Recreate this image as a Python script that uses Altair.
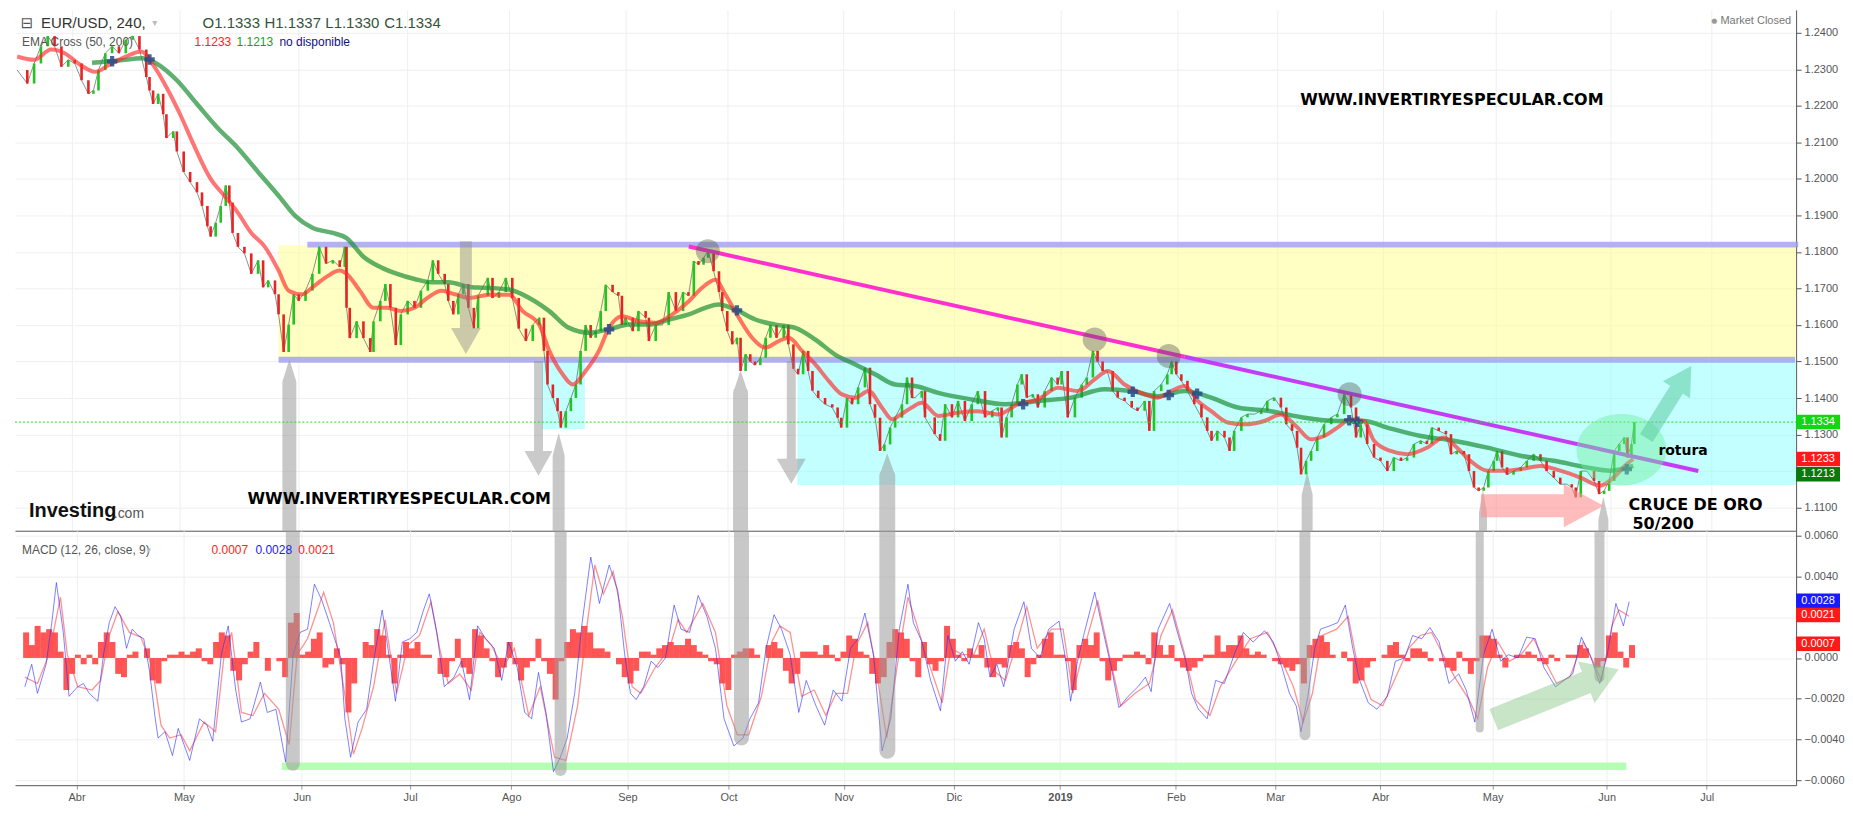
import altair as alt
import pandas as pd

# ---------------- axis values ----------------
# x = day index counted from 1 Apr 2018 (chart time axis)
MONTH_POS = [0, 30.0, 63.0, 93.3, 121.6, 154.1, 182.4, 214.6, 245.4, 275.1, 307.5, 335.3, 364.7, 396.1, 428.0, 456.0]
MONTH_LBL = ["Abr", "May", "Jun", "Jul", "Ago", "Sep", "Oct", "Nov", "Dic", "2019", "Feb", "Mar", "Abr", "May", "Jun", "Jul"]
PRICE_TICKS = [1.11, 1.12, 1.13, 1.14, 1.15, 1.16, 1.17, 1.18, 1.19, 1.20, 1.21, 1.22, 1.23, 1.24]
MACD_TICKS = [-0.006, -0.004, -0.002, 0.0, 0.002, 0.004, 0.006]

# ---------------- price closes (day, close) ----------------
CLOSE_A = [(-15.2, 1.2298), (-12.4, 1.2261), (-10.5, 1.2316), (-8.6, 1.2363), (-6.7, 1.2391), (-4.8, 1.2363),
           (-2.9, 1.2307), (-1.0, 1.2326), (0.8, 1.2316), (2.7, 1.2270), (4.6, 1.2233), (6.0, 1.2242),
           (7.4, 1.2298), (9.3, 1.2344), (11.2, 1.2363), (13.1, 1.2344), (15.0, 1.2381), (16.9, 1.2391),
           (18.8, 1.2354), (20.7, 1.2279), (21.6, 1.2242), (22.6, 1.2205), (24.0, 1.2233), (25.4, 1.2177),
           (26.3, 1.2112), (28.2, 1.2130), (29.2, 1.2075), (31.1, 1.2019), (32.9, 1.1991), (34.8, 1.1963),
           (36.2, 1.1926), (37.7, 1.1870), (38.6, 1.1842), (40.0, 1.1880), (41.4, 1.1926), (42.8, 1.1982),
           (43.8, 1.1935), (44.7, 1.1852), (46.2, 1.1814), (48.0, 1.1796), (49.9, 1.1740), (51.8, 1.1777),
           (53.2, 1.1703), (54.6, 1.1722), (56.5, 1.1684), (57.5, 1.1629), (58.9, 1.1526), (60.3, 1.1601),
           (61.7, 1.1684), (63.1, 1.1666), (65.0, 1.1694), (66.9, 1.1740), (68.8, 1.1814), (70.7, 1.1768),
           (72.6, 1.1777), (74.5, 1.1759), (75.9, 1.1814), (76.4, 1.1647), (77.3, 1.1564), (79.2, 1.1610),
           (81.1, 1.1564), (83.0, 1.1526), (83.9, 1.1610), (85.8, 1.1666), (87.2, 1.1712), (88.6, 1.1647),
           (90.1, 1.1545), (91.5, 1.1629), (93.4, 1.1666), (95.3, 1.1647), (97.1, 1.1694), (99.0, 1.1722),
           (100.4, 1.1777), (101.9, 1.1740), (103.7, 1.1712), (104.7, 1.1666), (106.1, 1.1629), (107.5, 1.1684),
           (108.9, 1.1712), (110.3, 1.1647), (111.8, 1.1591)]
CLOSE_B = [(113.0, 1.1680), (115.7, 1.1729), (117.0, 1.1674), (118.8, 1.1690), (120.7, 1.1729), (122.5, 1.1674),
           (124.3, 1.1590), (126.3, 1.1556), (128.2, 1.1600), (130.0, 1.1620), (131.3, 1.1529), (132.3, 1.1437),
           (133.8, 1.1400), (135.1, 1.1364), (136.0, 1.1319), (137.4, 1.1364), (138.8, 1.1400), (140.2, 1.1437),
           (141.5, 1.1529), (142.9, 1.1600), (144.3, 1.1565), (145.7, 1.1583), (147.1, 1.1638), (148.5, 1.1710),
           (150.4, 1.1690), (152.0, 1.1680), (153.0, 1.1600), (154.0, 1.1620), (156.0, 1.1583), (157.6, 1.1638),
           (159.6, 1.1620), (160.5, 1.1556), (162.4, 1.1600), (164.3, 1.1600), (166.0, 1.1690), (168.0, 1.1638),
           (170.0, 1.1690), (171.5, 1.1680), (173.0, 1.1775), (174.3, 1.1765), (175.7, 1.1784), (177.0, 1.1802),
           (178.5, 1.1747), (180.0, 1.1690), (180.9, 1.1638), (182.3, 1.1583), (183.7, 1.1547), (185.0, 1.1565),
           (186.0, 1.1474), (187.4, 1.1520), (188.7, 1.1500), (190.0, 1.1490), (191.5, 1.1510), (193.0, 1.1565),
           (194.3, 1.1600), (196.0, 1.1565), (198.0, 1.1600), (199.3, 1.1547), (200.7, 1.1480), (202.0, 1.1465),
           (203.4, 1.1529), (204.8, 1.1474), (206.0, 1.1420), (207.6, 1.1400), (209.5, 1.1383), (211.5, 1.1374),
           (213.0, 1.1346), (214.0, 1.1319), (215.6, 1.1400), (217.0, 1.1383), (218.7, 1.1429), (220.6, 1.1483),
           (222.0, 1.1383), (223.4, 1.1346), (224.8, 1.1255), (226.0, 1.1273), (227.6, 1.1319), (229.0, 1.1346),
           (230.9, 1.1383), (232.3, 1.1456), (233.7, 1.1400)]
CLOSE_C = [(234.5, 1.1401), (236.4, 1.1419), (237.3, 1.1347), (240.0, 1.1301), (241.5, 1.1283), (242.9, 1.1383),
           (244.8, 1.1347), (246.5, 1.1392), (248.4, 1.1337), (250.3, 1.1383), (252.0, 1.1419), (254.0, 1.1347),
           (256.0, 1.1365), (257.6, 1.1374), (258.6, 1.1292), (260.0, 1.1347), (261.4, 1.1383), (263.0, 1.1437),
           (264.2, 1.1465), (265.6, 1.1401), (267.3, 1.1410), (268.7, 1.1374), (270.6, 1.1419), (272.5, 1.1456),
           (274.2, 1.1437), (275.3, 1.1474), (277.0, 1.1347), (279.0, 1.1401), (280.9, 1.1437), (282.3, 1.1456),
           (284.0, 1.1529), (285.3, 1.1500), (286.7, 1.1474), (288.0, 1.1474), (289.5, 1.1419), (290.9, 1.1401),
           (292.8, 1.1392), (294.8, 1.1374), (296.4, 1.1365), (298.4, 1.1392), (299.7, 1.1310), (301.0, 1.1419),
           (303.0, 1.1437), (304.7, 1.1465), (305.9, 1.1500), (307.2, 1.1465), (308.6, 1.1447), (310.3, 1.1419),
           (312.2, 1.1383), (314.2, 1.1347), (315.8, 1.1310), (317.0, 1.1283), (318.6, 1.1310), (320.6, 1.1292),
           (322.0, 1.1255), (323.3, 1.1310), (325.3, 1.1347), (327.0, 1.1356), (329.0, 1.1356), (330.8, 1.1365),
           (332.5, 1.1392), (334.4, 1.1401), (336.3, 1.1374), (337.8, 1.1328), (339.4, 1.1310), (340.8, 1.1264),
           (341.9, 1.1191), (343.3, 1.1228), (344.7, 1.1255), (346.4, 1.1292), (348.3, 1.1328), (350.3, 1.1347),
           (352.0, 1.1356), (353.9, 1.1410), (355.8, 1.1374), (357.2, 1.1292)]
CLOSE_D = [(358.5, 1.1328), (360.3, 1.1274), (362.2, 1.1237), (364.0, 1.1228), (365.9, 1.1200), (367.7, 1.1237),
           (369.7, 1.1228), (371.4, 1.1237), (373.3, 1.1274), (375.2, 1.1283), (376.9, 1.1274), (378.3, 1.1319),
           (380.2, 1.1310), (382.2, 1.1301), (383.6, 1.1246), (385.2, 1.1255), (387.2, 1.1246), (388.6, 1.1200),
           (390.0, 1.1155), (391.3, 1.1146), (392.7, 1.1155), (394.0, 1.1200), (395.5, 1.1228), (396.4, 1.1255),
           (397.8, 1.1210), (399.2, 1.1190), (401.0, 1.1200), (403.0, 1.1210), (404.7, 1.1228), (406.6, 1.1246),
           (408.5, 1.1228), (410.2, 1.1200), (412.2, 1.1182), (414.0, 1.1164), (415.8, 1.1164), (417.2, 1.1155),
           (418.3, 1.1128), (419.7, 1.1200), (421.4, 1.1200), (423.4, 1.1173), (424.8, 1.1137), (426.2, 1.1146),
           (427.6, 1.1173), (429.0, 1.1255), (430.4, 1.1274), (431.8, 1.1292), (432.7, 1.1237), (433.8, 1.1274),
           (434.6, 1.1334)]

# ---------------- moving averages (day, value) ----------------
EMA50 = [(-15.2, 1.2335), (-10.5, 1.2326), (-5.8, 1.2354), (-2.0, 1.2344), (1.8, 1.2316), (6.5, 1.2293),
         (10.3, 1.2312), (15.0, 1.2335), (19.3, 1.2349), (22.6, 1.2312), (26.3, 1.2251), (30.1, 1.2177),
         (33.9, 1.2093), (38.6, 1.2000), (42.4, 1.1954), (46.2, 1.1907), (49.9, 1.1852), (53.7, 1.1814),
         (57.5, 1.1749), (60.3, 1.1694), (64.1, 1.1684), (66.9, 1.1703), (70.7, 1.1731), (74.5, 1.1749),
         (76.4, 1.1740), (80.1, 1.1694), (83.9, 1.1647), (87.7, 1.1647), (91.5, 1.1638), (95.3, 1.1647),
         (99.0, 1.1675), (102.8, 1.1694), (106.6, 1.1684), (110.6, 1.1674), (116.1, 1.1683), (121.6, 1.1683),
         (125.4, 1.1638), (130.0, 1.1601), (132.8, 1.1529), (136.5, 1.1465), (139.3, 1.1437), (142.9, 1.1474),
         (146.6, 1.1529), (149.4, 1.1592), (153.1, 1.1624), (157.7, 1.1610), (162.4, 1.1606), (167.0, 1.1629),
         (171.6, 1.1665), (175.3, 1.1702), (179.0, 1.1724), (181.8, 1.1683), (185.5, 1.1620), (189.2, 1.1565),
         (192.9, 1.1538), (196.6, 1.1556), (199.4, 1.1565), (203.1, 1.1529), (206.8, 1.1492), (210.5, 1.1447),
         (214.2, 1.1410), (217.9, 1.1401), (221.6, 1.1419), (225.3, 1.1374), (228.1, 1.1342), (230.8, 1.1356),
         (233.6, 1.1374), (236.4, 1.1387), (241.0, 1.1351), (246.6, 1.1360), (252.1, 1.1364), (257.6, 1.1355),
         (263.2, 1.1383), (268.7, 1.1396), (274.3, 1.1428), (279.8, 1.1419), (284.5, 1.1451), (288.2, 1.1474),
         (292.8, 1.1437), (298.4, 1.1410), (302.1, 1.1401), (305.8, 1.1419), (309.5, 1.1433), (313.2, 1.1392),
         (316.9, 1.1364), (321.5, 1.1333), (326.1, 1.1328), (331.7, 1.1337), (336.3, 1.1355), (340.9, 1.1319),
         (344.6, 1.1287), (348.3, 1.1296), (352.0, 1.1319), (355.7, 1.1342), (359.4, 1.1337), (362.2, 1.1283),
         (366.8, 1.1255), (371.4, 1.1246), (377.0, 1.1264), (381.6, 1.1292), (385.3, 1.1264), (389.0, 1.1228),
         (393.7, 1.1201), (398.3, 1.1201), (402.9, 1.1205), (408.5, 1.1214), (414.0, 1.1201), (419.6, 1.1182),
         (425.1, 1.1160), (428.8, 1.1182), (432.5, 1.1219), (434.3, 1.1233)]
EMA200 = [(5.6, 1.2318), (13.0, 1.2324), (19.7, 1.2330), (23.5, 1.2316), (29.2, 1.2270), (34.8, 1.2205),
          (40.5, 1.2140), (46.2, 1.2084), (51.8, 1.2019), (57.5, 1.1954), (62.2, 1.1898), (66.9, 1.1866),
          (72.6, 1.1852), (76.4, 1.1838), (81.1, 1.1787), (85.8, 1.1759), (90.5, 1.1740), (95.3, 1.1726),
          (100.0, 1.1717), (104.7, 1.1717), (111.3, 1.1703), (114.3, 1.1702), (121.6, 1.1697), (127.2, 1.1674),
          (132.8, 1.1638), (138.3, 1.1592), (143.9, 1.1579), (149.4, 1.1588), (155.0, 1.1601), (160.5, 1.1601),
          (166.1, 1.1615), (171.6, 1.1629), (176.2, 1.1647), (179.9, 1.1656), (184.6, 1.1642), (190.1, 1.1615),
          (195.7, 1.1601), (201.2, 1.1592), (206.8, 1.1560), (212.3, 1.1519), (217.9, 1.1492), (223.4, 1.1465),
          (229.0, 1.1437), (234.5, 1.1433), (241.0, 1.1414), (250.3, 1.1396), (259.5, 1.1383), (268.7, 1.1392),
          (278.0, 1.1401), (287.3, 1.1424), (294.7, 1.1419), (302.1, 1.1405), (309.5, 1.1419), (316.9, 1.1401),
          (324.3, 1.1374), (333.5, 1.1364), (342.8, 1.1346), (352.0, 1.1337), (359.4, 1.1337), (365.9, 1.1319),
          (375.2, 1.1296), (384.4, 1.1283), (393.7, 1.1264), (402.9, 1.1242), (412.2, 1.1228), (421.4, 1.1210),
          (427.9, 1.1201), (434.3, 1.1214)]

# ---------------- MACD (day, value) ----------------
MACD_LINE = [(-14.46, -0.00141), (-12.54, -0.00031), (-10.93, -0.00173), (-8.52, -0.00031), (-6.91, 0.00173),
             (-5.63, 0.00369), (-3.70, 0.00125), (-2.09, -0.00188), (0.32, -0.00141), (1.93, -0.00125),
             (3.54, -0.00173), (5.95, -0.00212), (7.55, 0.00016), (9.16, 0.00173), (10.77, 0.00251),
             (12.38, 0.00204), (13.98, 0.00047), (15.59, 0.00141), (17.20, 0.00110), (18.80, 0.00094),
             (20.41, -0.00063), (22.02, -0.00298), (22.82, -0.00392), (24.75, -0.00361), (26.84, -0.00478),
             (28.45, -0.00345), (30.05, -0.00424), (31.66, -0.00502), (34.39, -0.00298), (36.48, -0.00329),
             (38.09, -0.00408), (40.50, 0.00016), (42.43, 0.00157), (44.52, -0.00157), (46.13, -0.00314),
             (48.54, -0.00298), (51.43, -0.00118), (53.36, -0.00267), (55.77, -0.00251), (58.50, -0.00510),
             (60.59, 0.00016), (62.52, 0.00125), (64.61, 0.00141), (66.54, 0.00361), (68.63, 0.00282),
             (70.72, 0.00173), (73.93, 0.0), (75.06, -0.00298), (76.66, -0.00486), (78.75, -0.00314),
             (81.16, -0.00251), (83.09, -0.00016), (85.50, 0.00235), (87.11, 0.00047), (89.20, -0.00212),
             (91.13, 0.00078), (93.22, 0.00094), (95.15, 0.00125), (97.07, 0.00235), (98.68, 0.00314),
             (100.77, 0.00125), (102.86, -0.00141), (105.59, -0.00094), (107.68, -0.00016), (109.93, -0.00204),
             (112.18, 0.00157), (114.43, 0.00094), (116.84, 0.00047), (118.93, -0.00110), (120.86, 0.00078),
             (123.27, -0.00047), (125.36, -0.00267), (127.29, -0.00298), (129.22, -0.00071), (131.31, -0.00267),
             (133.40, -0.00557), (135.33, -0.00486), (137.25, -0.00392), (139.34, -0.00173), (141.43, 0.00173),
             (143.84, 0.00494), (146.26, 0.00267), (148.99, 0.00455), (151.40, 0.00329), (153.33, 0.00016),
             (154.93, -0.00173), (156.54, -0.00204), (158.63, -0.00141), (160.72, -0.00016), (162.65, -0.00047),
             (164.74, 0.0), (167.15, 0.00259), (169.08, 0.00141), (171.49, 0.00125), (173.90, 0.00306),
             (176.31, 0.00204), (178.72, 0.00047), (181.13, -0.00298), (183.86, -0.00431), (186.44, -0.00392),
             (188.36, -0.00298), (190.77, -0.00220), (192.86, 0.00047), (195.11, 0.00212), (197.20, 0.00141),
             (199.61, 0.00016), (202.02, -0.00267), (204.11, -0.00110), (206.85, -0.00235), (209.26, -0.00329),
             (211.67, -0.00157), (214.08, -0.00212), (216.49, 0.00047), (218.58, 0.00094), (220.51, 0.00220),
             (222.92, 0.00016), (225.33, -0.00455), (227.74, -0.00298), (230.15, 0.00141), (232.56, 0.00361),
             (234.07, 0.00173), (236.49, 0.00078), (238.91, -0.00110), (241.65, -0.00259), (243.74, 0.00110),
             (245.83, -0.00016), (247.77, 0.00031), (249.70, -0.00031), (252.28, 0.00173), (253.89, 0.00094),
             (255.50, -0.00094), (257.43, -0.00031), (259.36, -0.00141), (262.26, 0.00141), (265.00, 0.00275),
             (267.10, 0.00047), (269.51, 0.0), (271.93, 0.00141), (274.83, 0.00180), (276.76, -0.00016),
             (278.05, -0.00212), (279.98, -0.00016), (281.92, 0.00125), (284.81, 0.00322), (287.23, 0.00125),
             (289.65, -0.00063), (291.58, -0.00243), (294.16, -0.00188), (296.90, -0.00141), (298.99, -0.00094),
             (300.60, -0.00165), (302.53, 0.00141), (305.76, 0.00267), (307.69, 0.00141), (310.27, -0.00016),
             (311.88, -0.00173), (313.81, -0.00251), (316.23, -0.00298), (318.64, -0.00110), (321.06, -0.00125),
             (323.80, 0.00016), (326.37, 0.00125), (329.11, 0.00078), (332.33, 0.00133), (334.75, 0.00078),
             (337.17, -0.00047), (339.26, -0.00173), (341.19, -0.00235), (342.48, -0.00361), (344.42, -0.00188),
             (346.35, 0.00047), (347.96, 0.00141), (350.54, 0.00157), (352.79, 0.00173), (354.89, 0.00259),
             (356.98, 0.00047), (358.91, -0.00110), (361.33, -0.00220), (363.74, -0.00251), (366.64, -0.00188),
             (368.90, -0.00016), (371.48, 0.0), (373.73, 0.00110), (376.31, 0.00094), (378.57, 0.00149),
             (381.14, 0.00078), (383.88, -0.00125), (386.62, -0.00078), (388.71, -0.00157), (391.13, -0.00314),
             (393.55, 0.00016), (395.96, 0.00141), (398.38, -0.00016), (400.47, 0.00016), (403.21, 0.0),
             (405.63, 0.00102), (408.04, 0.00094), (410.46, -0.00047), (413.68, -0.00141), (416.10, -0.00110),
             (418.51, -0.00078), (420.93, 0.00102), (423.35, 0.00016), (426.08, -0.00125), (428.18, 0.00016),
             (430.59, 0.00267), (432.69, 0.00157), (434.30, 0.00275)]
SIGNAL_LINE = [(-14.46, -0.00094), (-10.93, -0.00125), (-7.71, 0.00016), (-4.50, 0.00298), (-2.57, 0.00016),
               (0.32, -0.00141), (4.34, -0.00157), (6.75, -0.00110), (9.16, 0.00110), (11.57, 0.00227),
               (14.79, 0.00125), (18.00, 0.00102), (21.21, -0.00047), (23.63, -0.00329), (26.04, -0.00392),
               (29.25, -0.00376), (31.66, -0.00455), (35.68, -0.00314), (38.89, -0.00361), (41.30, 0.00016),
               (43.39, 0.00125), (46.13, -0.00267), (49.34, -0.00282), (52.56, -0.00173), (56.57, -0.00251),
               (59.47, -0.00424), (61.72, 0.00016), (64.61, 0.00094), (69.11, 0.00322), (71.84, 0.00173),
               (75.54, -0.00235), (77.47, -0.00471), (79.88, -0.00345), (83.09, -0.00141), (86.31, 0.00188),
               (89.52, -0.00173), (92.74, 0.00063), (95.95, 0.00110), (99.16, 0.00275), (101.57, 0.00047),
               (103.99, -0.00125), (107.20, -0.00078), (110.41, -0.00157), (112.83, 0.00125), (116.04, 0.00063),
               (119.25, -0.00047), (122.47, 0.00047), (126.49, -0.00282), (129.70, -0.00141), (133.72, -0.00486),
               (136.93, -0.00502), (140.15, -0.00235), (142.56, 0.00125), (144.97, 0.00455), (147.38, 0.00314),
               (150.11, 0.00424), (152.68, 0.00204), (155.42, -0.00141), (157.83, -0.00173), (161.85, -0.00047),
               (165.86, 0.00047), (168.27, 0.00188), (170.68, 0.00125), (175.18, 0.00267), (178.72, 0.00125),
               (181.93, -0.00235), (184.83, -0.00376), (188.04, -0.00376), (191.58, -0.00188), (194.47, 0.00078),
               (196.72, 0.00157), (199.61, 0.00125), (202.83, -0.00188), (206.36, -0.00157), (209.58, -0.00282),
               (212.47, -0.00173), (215.69, -0.00173), (218.10, 0.00063), (221.31, 0.00173), (223.72, -0.00063),
               (226.62, -0.00392), (229.35, -0.00063), (232.56, 0.00298), (234.88, 0.00173), (237.30, 0.00031),
               (239.71, -0.00094), (242.13, -0.00220), (244.54, 0.00047), (247.77, 0.00016), (250.99, 0.00016),
               (253.89, 0.00141), (256.63, -0.00063), (259.85, -0.00110), (263.07, 0.00078), (265.81, 0.00251),
               (268.71, 0.00047), (272.73, 0.00141), (275.96, 0.00141), (278.69, -0.00173), (281.59, 0.00031),
               (285.62, 0.00282), (288.84, 0.00016), (292.06, -0.00235), (296.09, -0.00173), (300.12, -0.00125),
               (303.34, 0.00110), (306.56, 0.00235), (309.78, 0.00031), (313.00, -0.00204), (317.03, -0.00282),
               (319.93, -0.00141), (324.28, -0.00016), (328.31, 0.00094), (333.14, 0.00125), (336.36, 0.00016),
               (340.39, -0.00141), (343.13, -0.00314), (345.71, -0.00173), (348.44, 0.00110), (352.47, 0.00141),
               (355.69, 0.00204), (358.11, -0.00016), (362.14, -0.00204), (365.36, -0.00235), (368.58, -0.00110),
               (372.61, 0.00047), (375.83, 0.00110), (379.05, 0.00125), (382.27, 0.00016), (385.49, -0.00094),
               (389.52, -0.00204), (391.94, -0.00298), (394.67, -0.00047), (397.57, 0.00078), (400.79, -0.00016),
               (404.01, 0.00016), (407.56, 0.00094), (410.78, -0.00016), (414.00, -0.00125), (417.71, -0.00094),
               (421.41, 0.00078), (424.15, -0.00016), (426.57, -0.00110), (429.47, 0.00157), (431.40, 0.00235),
               (434.30, 0.00204)]
# histogram, one bar every HIST_STEP days starting at HIST_START
HIST_START, HIST_STEP = -14.1, 1.61
HIST = [0.00125, 0.00063, 0.00157, 0.00125, 0.00141, 0.00125, 0.00031, -0.00157, -0.00078, 0.00016,
        -0.00031, 0.00016, -0.00031, 0.00078, 0.00125, 0.00078, -0.00078, -0.00094, 0.00016, 0.00031,
        0.0, 0.00047, -0.00110, -0.00125, -0.00016, 0.00016, 0.00016, 0.00031, 0.00016, 0.00031,
        0.00047, -0.00016, -0.00031, 0.00078, 0.00125, 0.00110, -0.00063, -0.00110, -0.00031, 0.00031,
        0.00078, 0.0, -0.00063, 0.0, -0.00016, -0.00094, 0.00173, 0.00220, 0.00016, 0.00031,
        0.00094, 0.00125, -0.00047, -0.00031, 0.00047, -0.00031, -0.00267, -0.00125, 0.0, 0.00078,
        0.00063, 0.00141, 0.00110, 0.00016, -0.00125, 0.00016, 0.00078, 0.00047, 0.00078, 0.00016,
        0.00016, 0.0, -0.00078, -0.00094, -0.00016, 0.00094, -0.00047, -0.00078, 0.00141, 0.00110,
        0.00047, -0.00016, -0.00094, -0.00047, 0.00078, -0.00031, -0.00110, -0.00047, -0.00016, 0.00094,
        -0.00016, -0.00078, -0.00204, -0.00016, 0.00078, 0.00141, 0.00125, 0.00157, 0.00125, 0.00047,
        0.00047, 0.00031, 0.0, -0.00031, -0.00094, -0.00125, -0.00063, 0.00031, 0.00031, 0.00016,
        0.00047, 0.00063, 0.00078, 0.00063, 0.00063, 0.00094, 0.00063, 0.00031, 0.00016, -0.00016,
        -0.00031, -0.00125, -0.00157, 0.00016, 0.00031, 0.00047, 0.00047, 0.00016, 0.0, 0.00063,
        0.00078, 0.00047, -0.00063, -0.00125, -0.00078, 0.00031, 0.00031, 0.00031, 0.00016, 0.00063,
        0.00016, -0.00016, 0.00031, 0.00110, 0.00094, 0.00031, 0.00016, -0.00078, -0.00125, -0.00094,
        0.00078, 0.00141, 0.00125, 0.00094, -0.00016,
        -0.00094, 0.00078, -0.00031, -0.00063, -0.00016, 0.00157, 0.00094, 0.00016, -0.00016, 0.00047,
        0.00016, 0.00063, -0.00047, -0.00094, -0.00031, -0.00047, 0.00063, 0.00078, 0.00047, -0.00094,
        -0.00031, 0.00016, 0.00094, 0.00125, 0.00016, 0.00016, -0.00016, -0.00157, 0.00063, 0.00094,
        0.00063, 0.00125, -0.00016, -0.00110, -0.00063, -0.00016, 0.00016, 0.00016, 0.00031, 0.00016,
        -0.00031, 0.00125, 0.00063, 0.00016, 0.00063, -0.00016, -0.00047, -0.00063, -0.00047, -0.00016,
        0.00016, 0.00016, 0.00110, 0.00031, 0.00063, 0.00063, 0.00110, 0.00047, 0.00016, 0.00031,
        0.00016, 0.0, -0.00016, -0.00031, -0.00047, -0.00063, -0.00031, -0.00125, 0.00063, 0.00094,
        0.00110, 0.00078, 0.00016, 0.0, 0.00031, -0.00016, -0.00125, -0.00110, -0.00047, -0.00016,
        0.0, 0.00016, 0.00063, 0.00078, 0.00016, -0.00016, 0.00047, 0.00047, 0.00031, -0.00016,
        0.0, -0.00016, -0.00047, -0.00063, 0.00031, -0.00016, -0.00078, -0.00016, 0.00110, 0.00110,
        0.00094, 0.00016, -0.00047, 0.0, 0.00016, 0.00016, 0.00031, 0.00016, -0.00016, -0.00031,
        0.00016, -0.00016, 0.0, 0.00016, 0.00016, 0.00063, 0.00047, 0.0, -0.00047, -0.00016,
        0.00110, 0.00125, 0.00031, -0.00047, 0.00063]

# ---------------- drawn annotations (day / price or MACD units) ----------------
ZONES = [(57.45, 482.4, 1.1505, 1.1818, "#ffff88"), (201.8, 482.4, 1.1162, 1.1505, "#88ffff"),
         (130.7, 142.7, 1.1315, 1.1505, "#88ffff")]
LEVELS = [(65.5, 480.2, 1.1820), (57.5, 479.3, 1.1505)]
TREND_A = [(171.6, 1.1815), (309.5, 1.1513)]
TREND_B = [(309.5, 1.1513), (452.4, 1.1200)]
TOUCH_CIRCLES = [(176.9, 1.1802), (284.5, 1.1560), (305.1, 1.1515), (355.4, 1.1410)]
EMA_CROSSES = [(11.2, 1.2322), (21.6, 1.2327), (149.4, 1.1588), (185.0, 1.1640), (264.6, 1.1383), (295.1, 1.1417),
               (305.1, 1.1408), (313.0, 1.1412), (355.3, 1.1339), (357.6, 1.1335), (432.5, 1.1205)]
SPIKE_DAY = [60.5, 135.4, 186.0, 226.8, 343.6, 392.5, 426.0]
SPIKE_TOP = [1.1504, 1.1302, 1.1474, 1.1247, 1.1195, 1.1146, 1.1127]
SPIKE_TIP = [-0.00518, -0.00549, -0.00392, -0.00455, -0.00376, -0.00345, -0.00094]
SPIKE_W = [14, 12, 15, 16, 11, 8, 10]
DOWN_ARROWS = [(109.6, 1.1675), (129.8, 1.1344), (200.1, 1.1333)]
LAST_PRICE = 1.1334
PRICE_BADGES = [(1.1334, "#12d612"), (1.1233, "#ff1a1a")]
PRICE_BADGE_LOW = (1.1213, "#0a780a")
MACD_BADGES = [(0.0028, "#1a1aff"), (0.0021, "#ff1a1a"), (0.0007, "#ff1a1a")]
MACD_BAND = (57.45, 433.5, -0.00549, -0.00512)

# ---------------- layout ----------------
W, HP, HM = 1785, 522, 255
X_DOM = [-15.82, 479.6]
P_DOM = [1.10366, 1.24628]
M_DOM = [-0.00623, 0.00623]
FONT = "DejaVu Sans"
AXFONT = "Liberation Sans"

xs = alt.Scale(domain=X_DOM, nice=False, zero=False)
ps = alt.Scale(domain=P_DOM, nice=False, zero=False)
ms = alt.Scale(domain=M_DOM, nice=False, zero=False)

mids = [(MONTH_POS[i] + MONTH_POS[i + 1]) / 2 for i in range(len(MONTH_POS) - 1)]
expr = "'" + MONTH_LBL[-1] + "'"
for i in range(len(mids) - 1, -1, -1):
    expr = f"datum.value < {mids[i]:.2f} ? '{MONTH_LBL[i]}' : ({expr})"

GRID = "#efefef"
X_AX_P = alt.Axis(values=MONTH_POS, labels=False, ticks=False, grid=True, gridColor=GRID,
                  domain=True, domainColor="#555555", title=None)
X_AX_M = alt.Axis(values=MONTH_POS, labelExpr=expr, grid=True, gridColor=GRID, domainColor="#555555",
                  tickColor="#999999", tickSize=4, labelColor="#555555", labelFontSize=11, labelFont=AXFONT,
                  labelPadding=2, title=None,
                  labelFontWeight={"condition": {"test": "datum.value > 270 && datum.value < 280", "value": "bold"},
                                   "value": "normal"})
Y_AX_P = alt.Axis(orient="right", values=PRICE_TICKS, format=".4f", grid=True, gridColor=GRID,
                  domainColor="#555555", tickColor="#555555", tickSize=5, labelColor="#555555",
                  labelFontSize=11, labelFont=AXFONT, labelPadding=3, title=None)
Y_AX_M = alt.Axis(orient="right", values=MACD_TICKS, format=".4f", grid=True, gridColor=GRID,
                  domainColor="#555555", tickColor="#555555", tickSize=5, labelColor="#555555",
                  labelFontSize=11, labelFont=AXFONT, labelPadding=3, title=None)


def XP(f="d"):
    return alt.X(f"{f}:Q", scale=xs, axis=X_AX_P)


def XM(f="d"):
    return alt.X(f"{f}:Q", scale=xs, axis=X_AX_M)


def YP(f="p"):
    return alt.Y(f"{f}:Q", scale=ps, axis=Y_AX_P)


def YM(f="v"):
    return alt.Y(f"{f}:Q", scale=ms, axis=Y_AX_M)


ONE = pd.DataFrame({"k": [0]})


def label(s, x, y, size=12, color="#333333", weight="normal", align="left", font=FONT):
    return alt.Chart(ONE).mark_text(text=s, align=align, baseline="middle", fontSize=size, color=color,
                                    fontWeight=weight, font=font).encode(x=alt.value(x), y=alt.value(y))


def r_arrow(length, shaft, head, head_len):
    s = 2.0 / length
    sh, hh, hx = shaft / 2 * s, head / 2 * s, 1 - head_len * s
    return (f"M -1 {-sh:.3f} L {hx:.3f} {-sh:.3f} L {hx:.3f} {-hh:.3f} L 1 0 "
            f"L {hx:.3f} {hh:.3f} L {hx:.3f} {sh:.3f} L -1 {sh:.3f} Z")


BOX = "M -1 -0.33 L 1 -0.33 L 1 0.33 L -1 0.33 Z"
BOX_LOW = "M -1 0.03 L 1 0.03 L 1 0.69 L -1 0.69 Z"
ELLIPSE = "M -1 0 A 1 0.8 0 1 1 1 0 A 1 0.8 0 1 1 -1 0 Z"

# ---------------- price panel ----------------
zones = alt.Chart(pd.DataFrame(ZONES, columns=["d", "d2", "p", "p2", "c"])).mark_rect(
    opacity=0.5, clip=True).encode(x=XP(), x2="d2:Q", y=YP(), y2="p2:Q", color=alt.Color("c:N", scale=None))

levels = alt.Chart(pd.DataFrame(LEVELS, columns=["d", "d2", "p"])).mark_rule(
    strokeWidth=6, color="#9f9ff0", opacity=0.8).encode(x=XP(), x2="d2:Q", y=YP())

spk_rows = []
for i, (d, top, w) in enumerate(zip(SPIKE_DAY, SPIKE_TOP, SPIKE_W)):
    spk_rows += [(i, d, top, 0.5, 0), (i, d, top - 0.006, w, 1), (i, d, 1.09, w, 2)]
spikes_p = alt.Chart(pd.DataFrame(spk_rows, columns=["id", "d", "p", "w", "o"])).mark_trail(
    color="#9a9a9a", opacity=0.55, clip=True).encode(
    x=XP(), y=YP(), size=alt.Size("w:Q", scale=None, legend=None), order="o:Q", detail="id:N")

cdf = pd.DataFrame(CLOSE_A + CLOSE_B + CLOSE_C + CLOSE_D, columns=["d", "p"])
cdf["o"] = cdf["p"].shift(1).fillna(cdf["p"])
cdf["dir"] = (cdf["p"] >= cdf["o"]).map({True: "up", False: "down"})
close_line = alt.Chart(cdf).mark_line(strokeWidth=0.8, color="#444444", opacity=0.75).encode(x=XP(), y=YP())
candles = alt.Chart(cdf).mark_rule(strokeWidth=2.6).encode(
    x=XP(), y=YP("o"), y2="p:Q",
    color=alt.Color("dir:N", scale=alt.Scale(domain=["up", "down"], range=["#22c322", "#e52424"]), legend=None))

ema200 = alt.Chart(pd.DataFrame(EMA200, columns=["d", "p"])).mark_line(
    strokeWidth=4.5, color="#1c8f34", opacity=0.7, interpolate="monotone").encode(x=XP(), y=YP())
ema50 = alt.Chart(pd.DataFrame(EMA50, columns=["d", "p"])).mark_line(
    strokeWidth=4, color="#ff2a2a", opacity=0.65, interpolate="monotone").encode(x=XP(), y=YP())

arrow_specs = [(113, 12, 30, 26), (115, 9, 28, 25), (123, 9, 29, 25)]
down_arrows = []
for (d, p), (ln, sw, hw, hl) in zip(DOWN_ARROWS, arrow_specs):
    down_arrows.append(
        alt.Chart(pd.DataFrame({"d": [d], "p": [p]})).mark_point(
            shape=r_arrow(ln, sw, hw, hl), size=ln * ln, filled=True, color="#8a8a8a", opacity=0.45,
            strokeWidth=0, angle=90).encode(x=XP(), y=YP()))

trend_a = alt.Chart(pd.DataFrame(TREND_A, columns=["d", "p"])).mark_line(
    strokeWidth=4, color="#ff2fd0").encode(x=XP(), y=YP())
trend_b = alt.Chart(pd.DataFrame(TREND_B, columns=["d", "p"])).mark_line(
    strokeWidth=4, color="#c63cf5").encode(x=XP(), y=YP())

circles = alt.Chart(pd.DataFrame(TOUCH_CIRCLES, columns=["d", "p"])).mark_circle(
    size=580, color="#555555", opacity=0.4).encode(x=XP(), y=YP())
crosses = alt.Chart(pd.DataFrame(EMA_CROSSES, columns=["d", "p"])).mark_point(
    shape="cross", filled=True, size=110, color="#2a4a8a", opacity=0.85, strokeWidth=0).encode(x=XP(), y=YP())

last_line = alt.Chart(pd.DataFrame({"p": [LAST_PRICE]})).mark_rule(
    strokeDash=[2, 2], color="#2bd52b", strokeWidth=1).encode(y=YP(), x=alt.value(0), x2=alt.value(W))

ellipse = alt.Chart(pd.DataFrame({"d": [431.0], "p": [1.1258]})).mark_point(
    shape=ELLIPSE, size=8100, filled=True, color="#6fee9e", opacity=0.45, strokeWidth=0).encode(x=XP(), y=YP())
up_arrow = alt.Chart(pd.DataFrame({"d": [444.2], "p": [1.1389]})).mark_point(
    shape=r_arrow(85, 15, 32, 28), size=85 * 85, filled=True, color="#55c89a", opacity=0.5,
    strokeWidth=0, angle=302).encode(x=XP(), y=YP())
pink_arrow = alt.Chart(pd.DataFrame({"d": [409.0], "p": [1.1105]})).mark_point(
    shape=r_arrow(123, 23, 43, 40), size=123 * 123, filled=True, color="#ff8f8f", opacity=0.6,
    strokeWidth=0).encode(x=XP(), y=YP())

pb = pd.DataFrame(PRICE_BADGES, columns=["p", "c"])
pb["t"] = pb["p"].map(lambda v: f"{v:.4f}")
pbl = pd.DataFrame([PRICE_BADGE_LOW], columns=["p", "c"])
pbl["t"] = pbl["p"].map(lambda v: f"{v:.4f}")
BX = W + 22
badge_p = alt.Chart(pb).mark_point(shape=BOX, size=44 * 44, filled=True, opacity=1, strokeWidth=0).encode(
    x=alt.value(BX), y=YP(), color=alt.Color("c:N", scale=None))
badge_pt = alt.Chart(pb).mark_text(color="white", fontSize=11, font=AXFONT).encode(
    x=alt.value(BX), y=YP(), text="t:N")
badge_pl = alt.Chart(pbl).mark_point(shape=BOX_LOW, size=44 * 44, filled=True, opacity=1, strokeWidth=0).encode(
    x=alt.value(BX), y=YP(), color=alt.Color("c:N", scale=None))
badge_plt = alt.Chart(pbl).mark_text(color="white", fontSize=11, font=AXFONT, dy=8).encode(
    x=alt.value(BX), y=YP(), text="t:N")

price_texts = [
    label("⊟", 12, 13, size=15, color="#555555", align="center"),
    label("EUR/USD, 240,", 26, 13, size=15, color="#333333", font=AXFONT),
    label("▾", 140, 13, size=10, color="#bbbbbb", align="center"),
    label("O1.1333", 188, 13, size=15, color="#33543a", font=AXFONT),
    label("H1.1337", 250, 13, size=15, color="#33543a", font=AXFONT),
    label("L1.1330", 311, 13, size=15, color="#33543a", font=AXFONT),
    label("C1.1334", 370, 13, size=15, color="#33543a", font=AXFONT),
    label("EMA Cross (50, 200)", 7, 32, size=12, color="#555555", font=AXFONT),
    label("1.1233", 180, 32, size=12, color="#ff2020", font=AXFONT),
    label("1.1213", 222, 32, size=12, color="#1d9a1d", font=AXFONT),
    label("no disponible", 265, 32, size=12, color="#101080", font=AXFONT),
    label("●", 1703, 11, size=7, color="#999999", align="center"),
    label("Market Closed", 1780, 11, size=11, color="#777777", align="right", font=AXFONT),
    label("WWW.INVERTIRYESPECULAR.COM", 1440, 90, size=16, color="#000000", weight="bold", align="center"),
    label("WWW.INVERTIRYESPECULAR.COM", 385, 490, size=16, color="#000000", weight="bold", align="center"),
    label("Investing", 14, 502, size=20, color="#111111", weight="bold", font=AXFONT),
    label(".com", 99, 505, size=14, color="#555555", font=AXFONT),
    label("rotura", 1647, 442, size=14, color="#000000", weight="bold"),
    label("CRUCE DE ORO", 1617, 496, size=16, color="#000000", weight="bold"),
    label("50/200", 1621, 515, size=16, color="#000000", weight="bold"),
]

price = alt.layer(
    zones, levels, spikes_p, close_line, candles, ema200, ema50, *down_arrows, trend_a, trend_b,
    circles, crosses, last_line, ellipse, up_arrow, pink_arrow, badge_p, badge_pt, badge_pl, badge_plt,
    *price_texts
).properties(width=W, height=HP)

# ---------------- MACD panel ----------------
band = alt.Chart(pd.DataFrame([MACD_BAND], columns=["d", "d2", "v", "v2"])).mark_rect(
    color="#a8ffa8", opacity=0.85).encode(x=XM(), x2="d2:Q", y=YM(), y2="v2:Q")
hdf = pd.DataFrame({"d": [HIST_START + i * HIST_STEP for i in range(len(HIST))], "v": HIST})
hist = alt.Chart(hdf).mark_bar(size=6, color="#ff3030", opacity=0.82).encode(x=XM(), y=YM())
signal = alt.Chart(pd.DataFrame(SIGNAL_LINE, columns=["d", "v"])).mark_line(
    strokeWidth=1.3, color="#ff4a4a", opacity=0.6).encode(x=XM(), y=YM())
macd = alt.Chart(pd.DataFrame(MACD_LINE, columns=["d", "v"])).mark_line(
    strokeWidth=1, color="#2b2bff", opacity=0.6).encode(x=XM(), y=YM())
sdf = pd.DataFrame({"d": SPIKE_DAY, "v": [0.0068] * len(SPIKE_DAY), "v2": SPIKE_TIP, "w": SPIKE_W})
spikes_m = alt.Chart(sdf).mark_rule(strokeCap="round", color="#9a9a9a", opacity=0.55, clip=True).encode(
    x=XM(), y=YM(), y2="v2:Q", strokeWidth=alt.StrokeWidth("w:Q", scale=None, legend=None))
macd_arrow = alt.Chart(pd.DataFrame({"d": [413.9], "v": [-0.00179]})).mark_point(
    shape=r_arrow(135, 23, 45, 35), size=135 * 135, filled=True, color="#7cc27c", opacity=0.42,
    strokeWidth=0, angle=338).encode(x=XM(), y=YM())

mb = pd.DataFrame(MACD_BADGES, columns=["v", "c"])
mb["t"] = mb["v"].map(lambda v: f"{v:.4f}")
badge_m = alt.Chart(mb).mark_point(shape=BOX, size=44 * 44, filled=True, opacity=1, strokeWidth=0).encode(
    x=alt.value(BX), y=YM(), color=alt.Color("c:N", scale=None))
badge_mt = alt.Chart(mb).mark_text(color="white", fontSize=11, font=AXFONT).encode(
    x=alt.value(BX), y=YM(), text="t:N")

macd_texts = [
    label("MACD (12, 26, close, 9)", 7, 19, size=12, color="#555555", font=AXFONT),
    label("▾", 134, 19, size=9, color="#bbbbbb", align="center"),
    label("0.0007", 197, 19, size=12, color="#ff2020", font=AXFONT),
    label("0.0028", 241, 19, size=12, color="#2020ff", font=AXFONT),
    label("0.0021", 284, 19, size=12, color="#ff2020", font=AXFONT),
]

macd_panel = alt.layer(
    band, hist, signal, macd, spikes_m, macd_arrow, badge_m, badge_mt, *macd_texts
).properties(width=W, height=HM)

chart = alt.vconcat(price, macd_panel, spacing=0, bounds="flush").properties(
    padding=0, background="white"
).configure_view(stroke="transparent")

chart.save("out.html", embed_options={"renderer": "svg", "actions": False})
